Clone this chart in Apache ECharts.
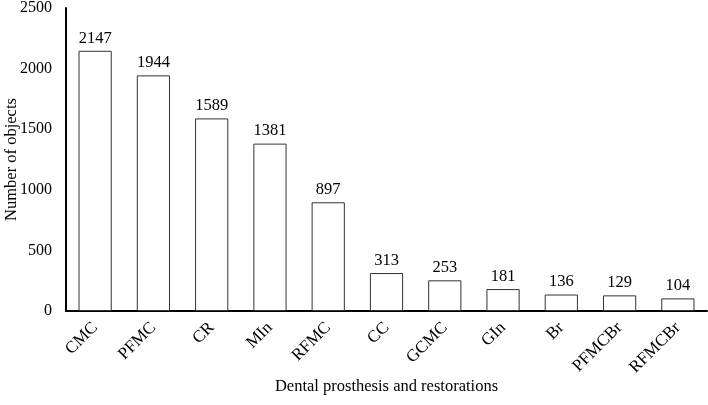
<!DOCTYPE html>
<html style="height: 100%">
<head>
    <meta charset="utf-8">
    <script src="https://cdn.jsdelivr.net/npm/echarts@6/dist/echarts.min.js"></script>
</head>
<body style="height:100%;margin:0;background:#fff">
    <div id="main" style="width:708px;height:405px;"></div>
    <script type="text/javascript">
        // data
        var categories = ['CMC', 'PFMC', 'CR', 'MIn', 'RFMC', 'CC', 'GCMC', 'GIn', 'Br', 'PFMCBr', 'RFMCBr'];
        var counts = [2147, 1944, 1589, 1381, 897, 313, 253, 181, 136, 129, 104];
        var yTicks = { min: 0, max: 2500, interval: 500 };

        var font = 'Liberation Serif';
        var myChart = echarts.init(document.getElementById('main'));

        option = {
            animation: false,
            backgroundColor: '#fff',
            textStyle: { fontFamily: font, color: '#000' },
            grid: { left: 66, right: 1, top: 8, bottom: 94, containLabel: false, outerBoundsMode: 'none' },
            xAxis: {
                type: 'category',
                data: categories,
                name: 'Dental prosthesis and restorations',
                nameLocation: 'middle',
                nameGap: 67,
                nameMoveOverlap: false,
                nameTextStyle: { fontFamily: font, fontSize: 16.5, color: '#000' },
                axisLine: { lineStyle: { color: '#000', width: 2 } },
                axisTick: { show: false },
                axisLabel: { rotate: 45, fontFamily: font, fontSize: 17, color: '#000', margin: 14 }
            },
            yAxis: {
                type: 'value',
                min: yTicks.min,
                max: yTicks.max,
                interval: yTicks.interval,
                name: 'Number of objects',
                nameLocation: 'middle',
                nameGap: 46,
                nameMoveOverlap: false,
                nameTextStyle: { fontFamily: font, fontSize: 16.5, color: '#000' },
                axisLine: { show: true, lineStyle: { color: '#000', width: 2 } },
                axisTick: { show: false },
                splitLine: { show: false },
                axisLabel: { fontFamily: font, fontSize: 16, color: '#000', margin: 14, formatter: function (v) { return String(v); } }
            },
            series: [
                {
                    type: 'bar',
                    data: counts,
                    barWidth: '57%',
                    itemStyle: { color: '#fff', borderColor: '#333', borderWidth: 1 },
                    label: { show: true, position: 'top', fontFamily: font, fontSize: 16.5, color: '#000', distance: 4 }
                }
            ]
        };
        myChart.setOption(option);
    </script>
</body>
</html>
